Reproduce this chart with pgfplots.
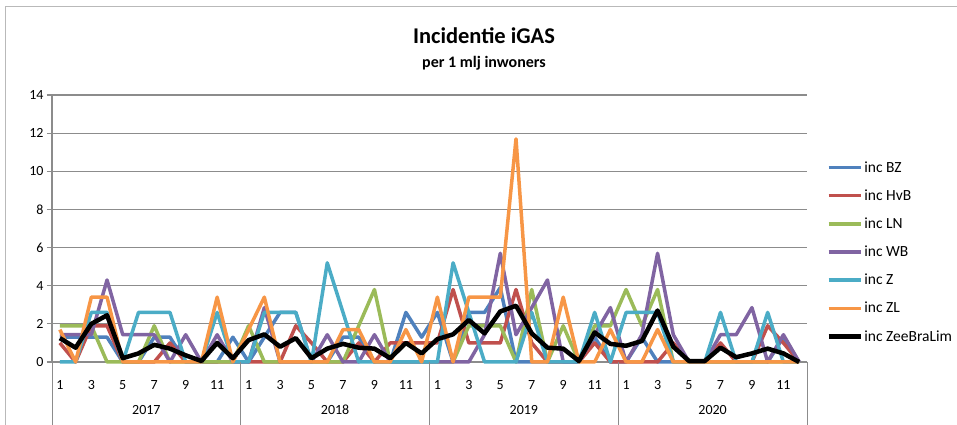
\documentclass[border=0pt]{standalone}
\usepackage{fontspec}
\setmainfont{Carlito}
\usepackage{pgfplots}
\usepackage{pgfplotstable}
\pgfplotsset{compat=1.18}

\definecolor{cBZ}{HTML}{4F81BD}
\definecolor{cHvB}{HTML}{C0504D}
\definecolor{cLN}{HTML}{9BBB59}
\definecolor{cWB}{HTML}{8064A2}
\definecolor{cZ}{HTML}{4BACC6}
\definecolor{cZL}{HTML}{F79646}
\definecolor{gridgray}{HTML}{8C8C8C}

% month index, then one column per region (incidence per 1 mlj)
\pgfplotstableread{
n  bz  hvb ln  wb   z   zl   zbl
1  1.3 1.0 1.9 1.43 0   1.7  1.25
2  1.3 0   1.9 1.43 0   0    0.75
3  1.3 1.9 1.9 1.43 2.6 3.4  2.0
4  1.3 1.9 0   4.3  2.6 3.4  2.45
5  0   0   0   1.43 0   0    0.2
6  0   0   0   1.43 2.6 0    0.45
7  1.3 0   1.9 1.43 2.6 0    0.9
8  1.3 1.0 0   0    2.6 0    0.7
9  0   0   0   1.43 0   0    0.35
10 0   0   0   0    0   0    0.05
11 0   0   0   1.43 2.6 3.4  1.0
12 1.3 0   0   0    0   0    0.2
13 0   0   1.9 0    0   1.7  1.15
14 1.3 0   0   2.85 2.6 3.4  1.45
15 2.6 0   0   0    2.6 0    0.8
16 2.6 1.9 0   0    2.6 0    1.25
17 0   1.0 0   0    0   0    0.2
18 0   0   0   1.43 5.2 0    0.7
19 1.3 0   0   0    2.6 1.7  0.95
20 1.3 1.0 1.9 0    0   1.7  0.75
21 0   0   3.8 1.43 0   0    0.7
22 0   1.0 0   0    0   0    0.2
23 2.6 1.0 0   0    0   1.7  1.0
24 1.3 1.0 0   0    0   0    0.45
25 2.6 1.0 0   0    0   3.4  1.2
26 0   3.8 0   0    5.2 0    1.45
27 2.6 1.0 1.9 0    2.6 3.4  2.2
28 2.6 1.0 1.9 1.43 0   3.4  1.5
29 3.9 1.0 1.9 5.7  0   3.4  2.65
30 0   3.8 0   1.43 0   11.7 2.95
31 0   1.0 3.8 2.85 2.6 0    1.5
32 0   0   0   4.3  0   0    0.75
33 0   0   1.9 0    0   3.4  0.7
34 0   0   0   0    0   0    0.05
35 1.3 1.0 1.9 1.43 2.6 0    1.55
36 0   0   1.9 2.85 0   1.7  0.95
37 0   0   3.8 0    2.6 0    0.85
38 1.3 0   1.9 1.43 2.6 0    1.1
39 0   0   3.8 5.7  2.6 1.7  2.7
40 0   1.0 0   1.43 0   0    0.8
41 0   0   0   0    0   0    0.05
42 0   0   0   0    0   0    0.05
43 0   1.0 0   1.43 2.6 0    0.75
44 0   0   0   1.43 0   0    0.25
45 0   0   0   2.85 0   0    0.45
46 0   1.9 0   0    2.6 0    0.7
47 1.3 1.0 0   1.43 0   0    0.45
48 0   0   0   0    0   0    0
}\incdata

\begin{document}
\begin{tikzpicture}
\useasboundingbox (0pt,0pt) rectangle (957pt,425pt);
% outer chart frame
\draw[gray!55, line width=1pt] (5pt,0pt) -- (5pt,418pt) -- (957pt,418pt);
\node[font=\fontsize{22.5}{26}\selectfont\bfseries] at (484pt,389pt) {Incidentie iGAS};
\node[font=\fontsize{16}{18}\selectfont\bfseries] at (484pt,362pt) {per 1 mlj inwoners};

\begin{axis}[
    at={(52pt,63pt)}, anchor=south west,
    scale only axis, width=755pt, height=267pt,
    xmin=0.5, xmax=48.5, ymin=0, ymax=14,
    ytick={0,2,...,14},
    xtick={1,3,...,47},
    xticklabels={1,3,5,7,9,11,1,3,5,7,9,11,1,3,5,7,9,11,1,3,5,7,9,11},
    axis x line*=bottom, axis y line*=left,
    axis line style={gridgray, line width=1.2pt, -},
    ymajorgrids, grid style={gridgray, line width=1.2pt},
    tick align=outside, major tick length=5pt,
    ytick style={gridgray, line width=1.2pt},
    xtick style={draw=none},
    ticklabel style={font=\fontsize{14}{16}\selectfont},
    xticklabel style={anchor=center, yshift=-18pt},
    /pgf/number format/assume math mode=true,
    clip=false,
    legend cell align=left,
    legend style={at={(1.0215,0.765)}, anchor=north west, draw=none, fill=none,
        font=\fontsize{15.5}{18}\selectfont, row sep=13pt,
        nodes={inner sep=1.5pt}},
    legend image code/.code={\draw[#1] (0pt,0pt) -- (32pt,0pt);},
    every axis plot/.append style={line join=round, line width=3.5pt},
]
\addplot[cBZ]  table[x=n, y=bz]  {\incdata};
\addplot[cHvB] table[x=n, y=hvb] {\incdata};
\addplot[cLN]  table[x=n, y=ln]  {\incdata};
\addplot[cWB]  table[x=n, y=wb]  {\incdata};
\addplot[cZ]   table[x=n, y=z]   {\incdata};
\addplot[cZL]  table[x=n, y=zl]  {\incdata};
\addplot[black, line width=4.5pt] table[x=n, y=zbl] {\incdata};
\legend{inc BZ, inc HvB, inc LN, inc WB, inc Z, inc ZL, inc ZeeBraLim}

% year level of the category axis
\pgfplotsinvokeforeach{0.5,12.5,24.5,36.5,48.5}{
  \draw[gridgray, line width=1pt] (axis cs:#1,0) -- ++(0pt,-63pt);
}
\node[font=\fontsize{14}{16}\selectfont] at ([yshift=-48pt]axis cs:6.5,0) {2017};
\node[font=\fontsize{14}{16}\selectfont] at ([yshift=-48pt]axis cs:18.5,0) {2018};
\node[font=\fontsize{14}{16}\selectfont] at ([yshift=-48pt]axis cs:30.5,0) {2019};
\node[font=\fontsize{14}{16}\selectfont] at ([yshift=-48pt]axis cs:42.5,0) {2020};
\end{axis}
\end{tikzpicture}
\end{document}
